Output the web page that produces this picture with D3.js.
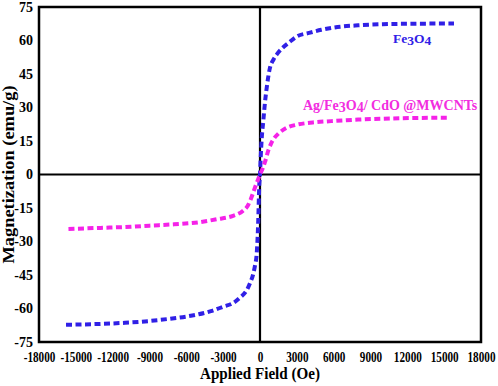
<!DOCTYPE html>
<html>
<head>
<meta charset="utf-8">
<script src="https://cdn.jsdelivr.net/npm/d3@7"></script>
<style>
  html, body { margin: 0; padding: 0; background: #fff; }
  svg { display: block; }
  text { font-family: "Liberation Serif", "Times New Roman", serif; font-weight: bold; }
</style>
</head>
<body>
<svg id="chart" width="498" height="386"></svg>
<script>
// ---- Data ----
const xTicks = [-18000, -15000, -12000, -9000, -6000, -3000, 0, 3000, 6000, 9000, 12000, 15000, 18000];
const yTicks = [-75, -60, -45, -30, -15, 0, 15, 30, 45, 60, 75];

const fe3o4Field = [-15800, -13000, -11000, -9000, -7500, -6000, -5000, -4000, -3000, -2200, -1600, -1100, -800, -550, -400, -270, -150, -60, 0, 60, 150, 270, 400, 550, 800, 1100, 1400, 1800, 2400, 3000, 4000, 5000, 6000, 8000, 10000, 12500, 15800];
const fe3o4M     = [-67.3, -66.9, -66.4, -65.6, -64.7, -63.6, -62.6, -61.2, -59.2, -57.6, -55.0, -52.0, -48.5, -44.5, -40.5, -35.6, -22.0, -5.0, 0, 8, 17, 24, 32, 39, 47.5, 51.5, 54, 56.5, 59.3, 61.8, 63.4, 64.8, 65.8, 66.8, 67.3, 67.5, 67.6];

const compField = [-15600, -13000, -10500, -9000, -7000, -5000, -3500, -2200, -1400, -1000, -800, -600, -400, -200, 0, 200, 400, 680, 900, 1100, 1500, 2200, 3000, 4300, 5800, 8000, 10000, 12500, 15400];
const compM     = [-24.4, -23.9, -23.4, -22.9, -22.3, -21.4, -20.0, -18.5, -16.3, -14.0, -11.7, -8.8, -5.7, -2.8, 0, 2.5, 5.5, 10.8, 13.8, 15.8, 18.3, 21.0, 22.3, 23.3, 23.9, 24.6, 25.0, 25.3, 25.4];

const seriesNames = ["Fe3O4", "Ag/Fe3O4/CdO@MWCNTs"];

// ---- Layout ----
const svg = d3.select("#chart");
const W = 498, H = 386;
const L = 39, R = 481, T = 7, B = 342;

svg.append("rect").attr("width", W).attr("height", H).attr("fill", "#fff");

const x = d3.scaleLinear().domain([-18000, 18000]).range([L, R]);
const y = d3.scaleLinear().domain([-75, 75]).range([B, T]);

// Zero lines
svg.append("line").attr("x1", x(0)).attr("x2", x(0)).attr("y1", T).attr("y2", B)
  .attr("stroke", "#000").attr("stroke-width", 2.2);
svg.append("line").attr("x1", L).attr("x2", R).attr("y1", y(0)).attr("y2", y(0))
  .attr("stroke", "#000").attr("stroke-width", 2.2);

// Curves
const line = d3.line().x(d => x(d[0])).y(d => y(d[1])).curve(d3.curveMonotoneX);
const feData = fe3o4Field.map((f, i) => [f, fe3o4M[i]]);
const compData = compField.map((f, i) => [f, compM[i]]);

svg.append("path").datum(feData).attr("d", line)
  .attr("fill", "none").attr("stroke", "#3020e6").attr("stroke-width", 4)
  .attr("stroke-dasharray", "6,3.5");
svg.append("path").datum(compData).attr("d", line)
  .attr("fill", "none").attr("stroke", "#f522e8").attr("stroke-width", 4)
  .attr("stroke-dasharray", "6,3.5");

// Frame
svg.append("rect").attr("x", L).attr("y", T).attr("width", R - L).attr("height", B - T)
  .attr("fill", "none").attr("stroke", "#000").attr("stroke-width", 2.5);

const fmt = d => String(d);

// Y axis labels
const yAxis = d3.axisLeft(y).tickValues(yTicks).tickFormat(fmt).tickSize(0).tickPadding(6);
const gy = svg.append("g").attr("transform", `translate(${L},0)`).call(yAxis);
gy.select(".domain").remove();
gy.selectAll("text").attr("font-size", 14).attr("fill", "#000")
  .style("font-family", '"Liberation Serif", serif').style("font-weight", "bold");

// X axis labels
const xAxis = d3.axisBottom(x).tickValues(xTicks).tickFormat(fmt).tickSize(0).tickPadding(0);
const gx = svg.append("g").attr("transform", `translate(0,${B})`).call(xAxis);
gx.select(".domain").remove();
gx.selectAll("text").attr("font-size", 14).attr("fill", "#000")
  .attr("dy", null).attr("y", 20)
  .attr("transform", "scale(0.8,1)")
  .style("font-family", '"Liberation Serif", serif').style("font-weight", "bold");

// Axis titles
svg.append("text").attr("x", x(0)).attr("y", 379).attr("text-anchor", "middle")
  .attr("font-size", 16).attr("textLength", 120).attr("lengthAdjust", "spacingAndGlyphs")
  .text("Applied Field (Oe)");
svg.append("text").attr("transform", `translate(14,${y(0)}) rotate(-90)`)
  .attr("text-anchor", "middle").attr("font-size", 16)
  .attr("textLength", 178).attr("lengthAdjust", "spacingAndGlyphs")
  .text("Magnetization (emu/g)");

// Series labels
const feLabel = svg.append("text").attr("x", 393).attr("y", 43)
  .attr("font-size", 13.5).attr("fill", "#3020e6");
feLabel.append("tspan").text("Fe");
feLabel.append("tspan").attr("dy", 2).text("3");
feLabel.append("tspan").attr("dy", -2).text("O");
feLabel.append("tspan").attr("dy", 2).text("4");

const compLabel = svg.append("text").attr("x", 303).attr("y", 110)
  .attr("font-size", 14).attr("fill", "#f22de0");
compLabel.append("tspan").text("Ag/Fe");
compLabel.append("tspan").attr("dy", 1.5).text("3");
compLabel.append("tspan").attr("dy", -1.5).text("O");
compLabel.append("tspan").attr("dy", 1.5).text("4");
compLabel.append("tspan").attr("dy", -1.5).text("/ CdO @MWCNTs");
</script>
</body>
</html>
